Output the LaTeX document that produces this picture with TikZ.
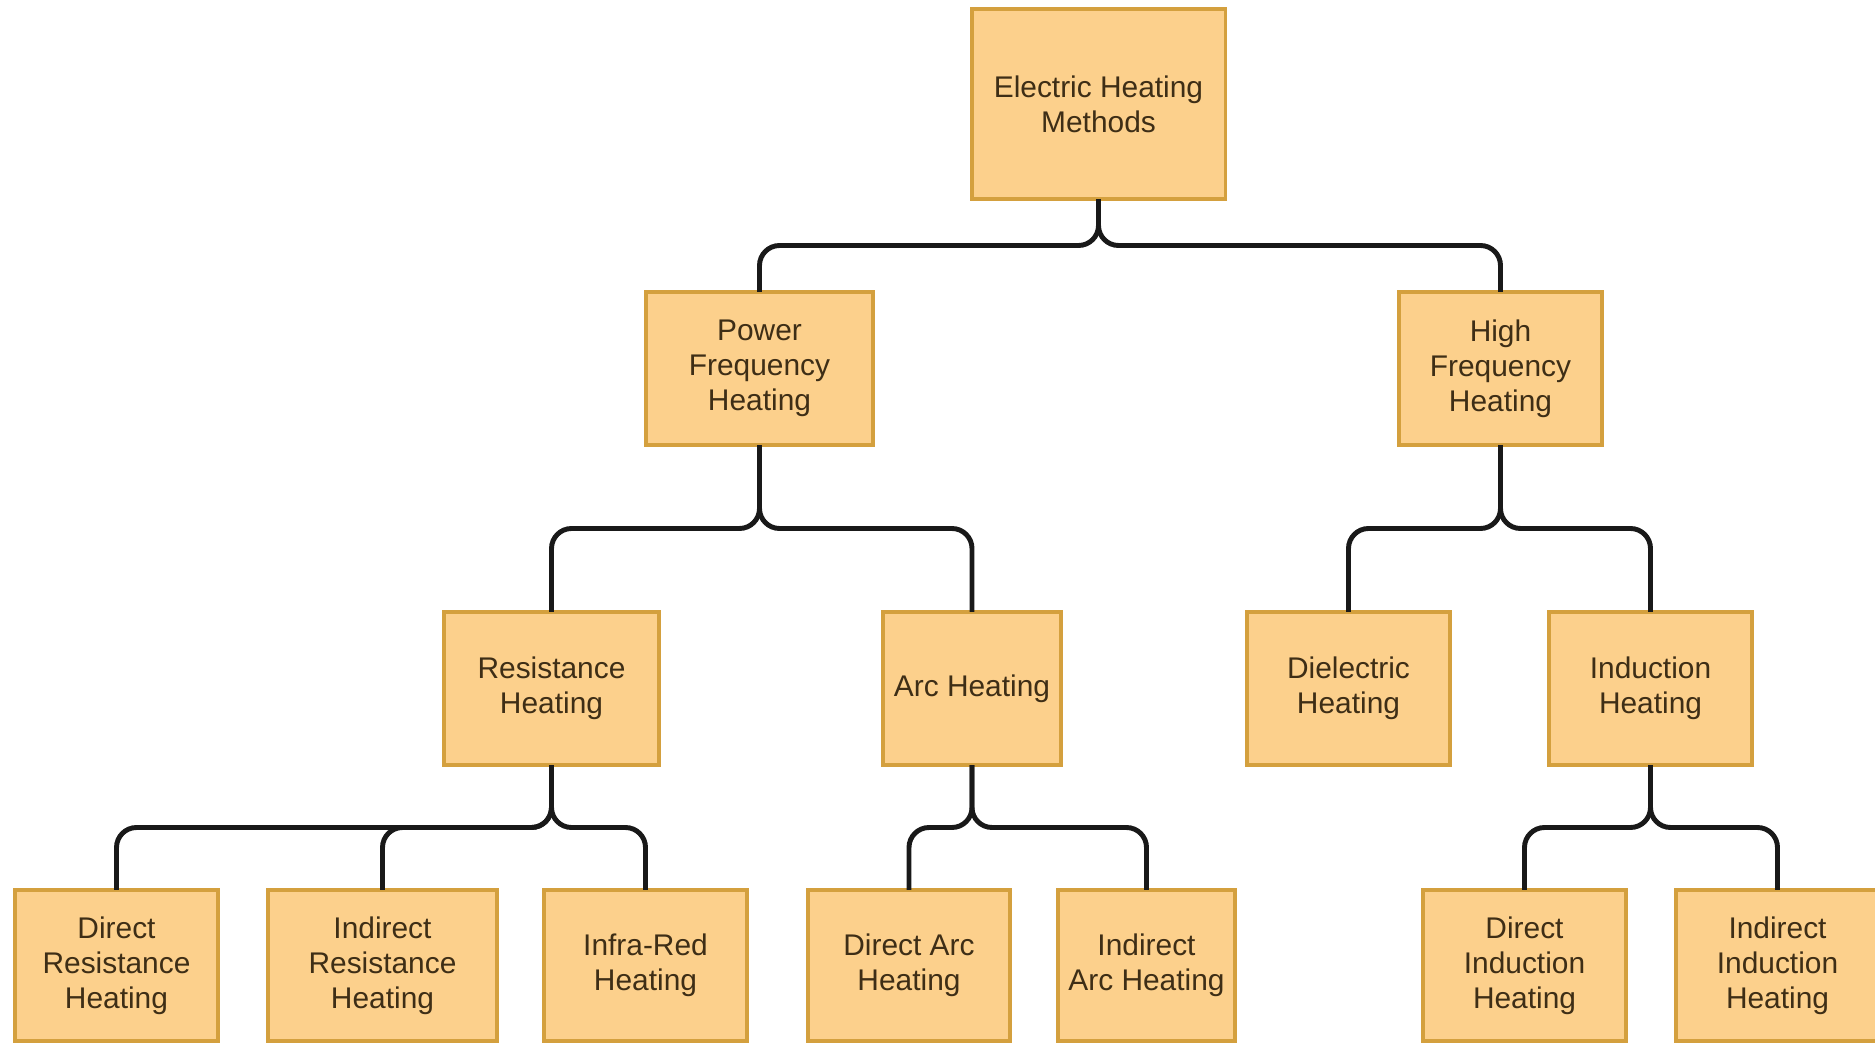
\documentclass[tikz,border=0pt]{standalone}
\usepackage{fontspec}
\setmainfont{Liberation Sans}
\usepackage{xcolor}
\usepackage{tikz}
\usetikzlibrary{calc}
\definecolor{boxfill}{RGB}{252,208,140}
\definecolor{boxline}{RGB}{212,160,62}
\definecolor{boxtext}{RGB}{62,46,22}
\tikzstyle{method}=[draw=boxline, fill=boxfill, line width=0.9pt, rectangle, align=center, inner sep=2pt, outer sep=0pt, text=boxtext, font=\fontsize{8.5}{10}\selectfont]
\tikzstyle{link}=[draw=black!90, line width=1.4pt, rounded corners=0.2cm]

\begin{document}
\begin{tikzpicture}[x=0.01cm, y=-0.01cm]
        \useasboundingbox (0,0) rectangle (1875,1043);
        % level 0
        \node[method, minimum width=2.53cm, minimum height=1.9cm] (ehm) at (1098.5,104) {Electric Heating\\Methods};
        % level 1
        \node[method, minimum width=2.27cm, minimum height=1.53cm] (pfh) at (759.5,368.5) {Power\\Frequency\\Heating};
        \node[method, minimum width=2.03cm, minimum height=1.53cm] (hfh) at (1500.5,368.5) {High\\Frequency\\Heating};
        % level 2
        \node[method, minimum width=2.15cm, minimum height=1.53cm] (res) at (551.5,688.5) {Resistance\\Heating};
        \node[method, minimum width=1.78cm, minimum height=1.53cm] (arc) at (972,688.5) {Arc Heating};
        \node[method, minimum width=2.03cm, minimum height=1.53cm] (die) at (1348.5,688.5) {Dielectric\\Heating};
        \node[method, minimum width=2.03cm, minimum height=1.53cm] (ind) at (1650.5,688.5) {Induction\\Heating};
        % level 3
        \node[method, minimum width=2.03cm, minimum height=1.51cm] (dres) at (116.5,965.5) {Direct\\Resistance\\Heating};
        \node[method, minimum width=2.29cm, minimum height=1.51cm] (ires) at (382.5,965.5) {Indirect\\Resistance\\Heating};
        \node[method, minimum width=2.03cm, minimum height=1.51cm] (infr) at (645.5,965.5) {Infra-Red\\Heating};
        \node[method, minimum width=2.02cm, minimum height=1.51cm] (darc) at (909,965.5) {Direct Arc\\Heating};
        \node[method, minimum width=1.77cm, minimum height=1.51cm] (iarc) at (1146.5,965.5) {Indirect\\Arc Heating};
        \node[method, minimum width=2.03cm, minimum height=1.51cm] (dind) at (1524.5,965.5) {Direct\\Induction\\Heating};
        \node[method, minimum width=2.03cm, minimum height=1.51cm] (iind) at (1777.5,965.5) {Indirect\\Induction\\Heating};
        % tree links
        \foreach \p/\c in {ehm/pfh, ehm/hfh, pfh/res, pfh/arc, hfh/die, hfh/ind,
                           res/dres, res/ires, res/infr, arc/darc, arc/iarc, ind/dind, ind/iind} {
             \draw[link] (\p.south) -- ($(\p.south)!0.5!(\p.south |- \c.north)$) -| (\c.north);
        }
    \end{tikzpicture}
\end{document}
